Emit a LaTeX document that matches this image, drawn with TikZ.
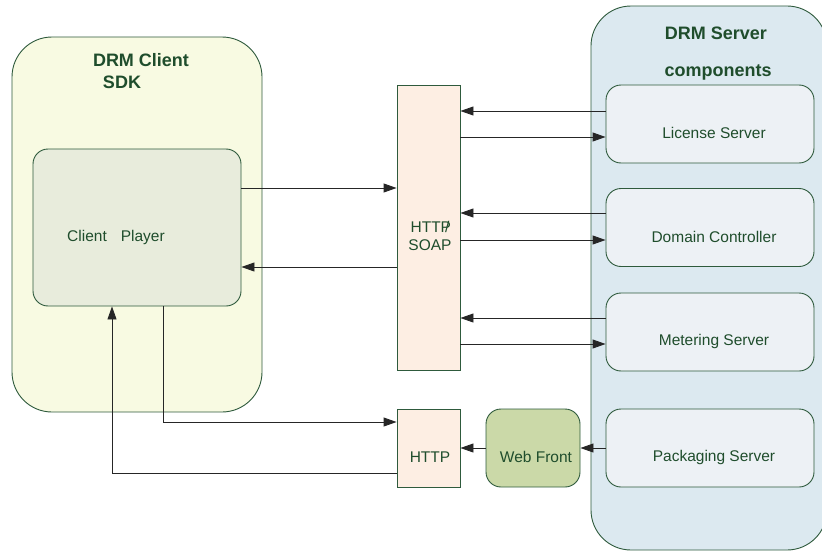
\documentclass[tikz,border=0pt]{standalone}
\usepackage{fontspec}
\setmainfont{Liberation Sans}
\usetikzlibrary{arrows.meta}
\definecolor{edgegreen}{HTML}{2E5A3C}
\definecolor{textgreen}{HTML}{1F4D2C}
\definecolor{sdkfill}{HTML}{F8FAE2}
\definecolor{playerfill}{HTML}{E8ECDC}
\definecolor{protofill}{HTML}{FDEEE3}
\definecolor{serverbg}{HTML}{DCE9F0}
\definecolor{serverbox}{HTML}{EDF1F5}
\definecolor{webfill}{HTML}{CBD9A8}
\tikzset{
  container/.style={draw=edgegreen, line width=0.9pt, rounded corners=40pt, inner sep=0pt},
  compbox/.style={draw=edgegreen, line width=0.9pt, rounded corners=15pt, inner sep=0pt,
    fill=serverbox, minimum width=208pt, minimum height=78pt},
  protobox/.style={draw=edgegreen, line width=0.9pt, fill=protofill, inner sep=0pt},
  lbl/.style={text=textgreen, font=\fontsize{15.5}{18}\selectfont, inner sep=0pt},
  title/.style={text=textgreen, font=\fontsize{18}{22}\selectfont\bfseries, inner sep=0pt},
  link/.style={draw=black!85, line width=0.9pt, -{Triangle[length=13pt,width=9pt]}},
}
\begin{document}
\begin{tikzpicture}[x=1pt,y=-1pt]
\useasboundingbox (0,0) rectangle (822,551);
\begin{scope}
\clip (0,0) rectangle (822,551);
% client side
\node[container, fill=sdkfill, minimum width=250pt, minimum height=375pt] (sdk) at (137,224.5) {};
\node[title] (sdkt1) at (141,60) {DRM Client};
\node[title] (sdkt2) at (122,82) {SDK};
\node[draw=edgegreen, line width=0.9pt, rounded corners=15pt, inner sep=0pt, fill=playerfill,
  minimum width=208pt, minimum height=157pt] (player) at (137,227.5) {};
\node[lbl] (playert) at (116,237) {Client\hspace{14pt}Player};

% server side
\node[container, fill=serverbg, minimum width=236pt, minimum height=544pt] (srv) at (709,278) {};
\node[title] (srvt1) at (716,33) {DRM Server};
\node[title] (srvt2) at (718,72) {components};
\node[compbox] (lic) at (710,124) {};
\node[lbl] at (714,133) {License Server};
\node[compbox] (dom) at (710,227.5) {};
\node[lbl] at (714,237) {Domain Controller};
\node[compbox] (met) at (710,332) {};
\node[lbl] at (714,341) {Metering Server};
\node[compbox] (pack) at (710,448) {};
\node[lbl] at (714,457) {Packaging Server};
\end{scope}

% protocol boxes
\node[protobox, minimum width=63pt, minimum height=285pt] (soap) at (428.5,227.5) {};
\node[lbl, align=center] at (430,236) {HTTP\kern-6pt/\\SOAP};
\node[protobox, minimum width=63pt, minimum height=78pt] (http) at (428.5,448) {};
\node[lbl] at (430,457) {HTTP};
\node[draw=edgegreen, line width=0.9pt, rounded corners=15pt, fill=webfill, inner sep=0pt,
  minimum width=94pt, minimum height=78pt] (web) at (533,448) {};
\node[lbl] at (536,457) {Web Front};

% client player <-> HTTP/SOAP
\draw[link] (player.east |- 0,188) -- (soap.west |- 0,188);
\draw[link] (soap.west |- 0,267) -- (player.east |- 0,267);

% HTTP/SOAP <-> server components
\draw[link] (lic.west |- 0,111) -- (soap.east |- 0,111);
\draw[link] (soap.east |- 0,137) -- (lic.west |- 0,137);
\draw[link] (dom.west |- 0,213) -- (soap.east |- 0,213);
\draw[link] (soap.east |- 0,240) -- (dom.west |- 0,240);
\draw[link] (met.west |- 0,318) -- (soap.east |- 0,318);
\draw[link] (soap.east |- 0,344) -- (met.west |- 0,344);

% content delivery path
\draw[link] (pack.west) -- (web.east);
\draw[link] (web.west) -- (http.east);
\draw[link] (player.south -| 163,0) |- (http.west |- 0,422);
\draw[link] (http.west |- 0,473) -| (player.south -| 112,0);
\end{tikzpicture}
\end{document}
